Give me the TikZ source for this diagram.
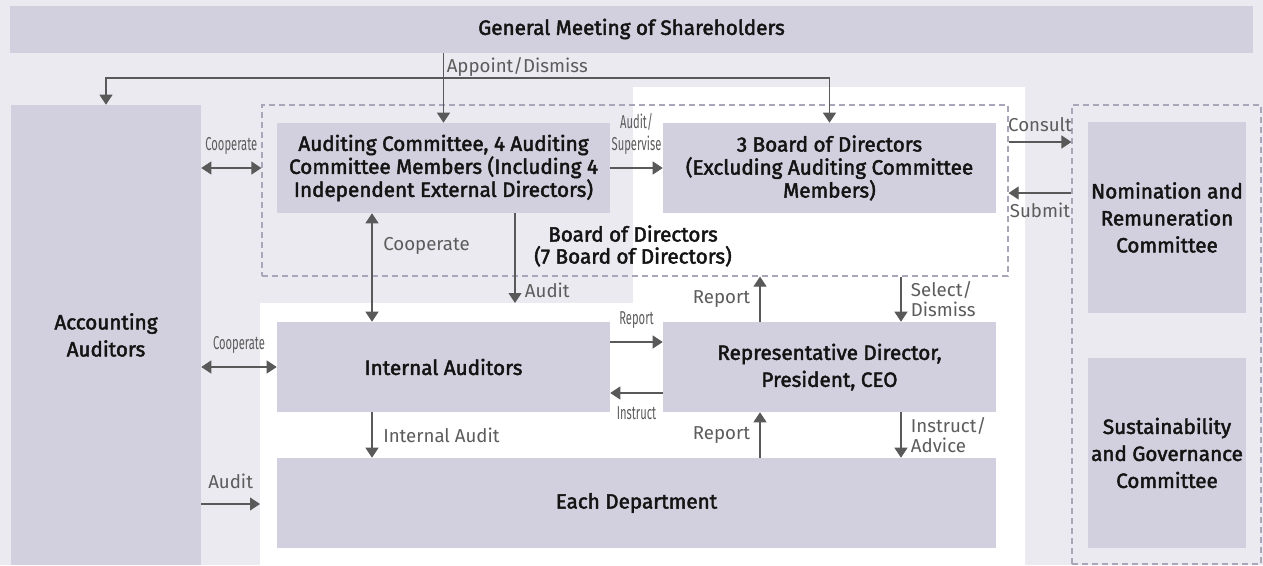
\documentclass[tikz,border=0pt]{standalone}
\usepackage{fontspec}
\setmainfont{Fira Sans}
\newfontfamily\boxfont{Fira Sans}[FakeBold=2.2]
\newfontfamily\narrowfont{Fira Sans}[FakeStretch=0.6]
\usetikzlibrary{arrows.meta}
\definecolor{bgc}{HTML}{EBEAF1}
\definecolor{boxc}{HTML}{D2D0DE}
\definecolor{dashc}{HTML}{A9A6B9}
\definecolor{arrc}{HTML}{595959}
\definecolor{lblc}{HTML}{5C5C5C}

\begin{document}
\begin{tikzpicture}[x=0.75pt,y=-0.75pt]
\tikzstyle{sq1}=[rectangle, fill=boxc, inner sep=0pt, align=center, text=black!92, font=\boxfont\fontsize{15.5}{17.25}\selectfont]
\tikzstyle{sqw}=[sq1, minimum width=249.75pt, minimum height=67.5pt]
\tikzstyle{sqt}=[sq1, font=\boxfont\fontsize{15.5}{20.25}\selectfont]
\tikzstyle{txtonly}=[rectangle, inner sep=0pt, align=center, text=black!92, font=\boxfont\fontsize{15.5}{16.5}\selectfont]
\tikzstyle{frm}=[rectangle, inner sep=0pt, draw=dashc, line width=0.9pt, dash pattern=on 4.5pt off 3pt]
\tikzstyle{arr}=[draw=arrc, line width=0.9pt, -{Triangle[width=9.75pt,length=7.5pt]}]
\tikzstyle{darr}=[arr, {Triangle[width=9.75pt,length=7.5pt]}-{Triangle[width=9.75pt,length=7.5pt]}]
\tikzstyle{lbl}=[text=lblc, inner sep=2pt, align=left, font=\fontsize{14}{15.5}\selectfont]
\tikzstyle{nlbl}=[text=lblc, inner sep=2pt, align=center, font=\narrowfont\fontsize{14}{16.5}\selectfont]
\useasboundingbox (0,0) rectangle (1263,565);
\fill[bgc] (0,0) rectangle (1263,565);
% executive area
\fill[white] (633,87) -- (1025,87) -- (1025,565) -- (260,565) -- (260,303) -- (633,303) -- cycle;
% dashed frames
\node (bdf) [frm, minimum width=559.5pt, minimum height=128.25pt] at (635,190.5) {};
\node (cdf) [frm, minimum width=141.75pt, minimum height=344.25pt] at (1166.5,334.5) {};
% boxes
\node (gms) [sq1, minimum width=932.25pt, minimum height=35.25pt] at (631.5,29) {General Meeting of Shareholders};
\node (acc) [sqt, minimum width=142.5pt, minimum height=345pt] at (106,335) {Accounting\\Auditors};
\node (audc) [sqw] at (443.5,168) {Auditing Committee, 4 Auditing\\Committee Members (Including 4\\Independent External Directors)};
\node (bod) [sqw, right of=audc, node distance=289.5pt] {3 Board of Directors\\(Excluding Auditing Committee\\Members)};
\node (ia) [sqw, below of=audc, node distance=149.25pt] {Internal Auditors};
\node (rep) [sqw, sqt, right of=ia, node distance=289.5pt] {Representative Director,\\President, CEO};
\node (dept) [sq1, minimum width=539.25pt, minimum height=67.5pt] at (636.5,503) {Each Department};
\node (nom) [sqt, minimum width=118.5pt, minimum height=143.25pt] at (1167,217.5) {Nomination and\\Remuneration\\Committee};
\node (sus) [sqt, minimum width=118.5pt, minimum height=142.5pt] at (1167,453) {Sustainability\\and Governance\\Committee};
\node (bdlbl) [txtonly] at (633,246) {Board of Directors\\(7 Board of Directors)};
% helper coordinates
\coordinate (ad) at (443.5,78);
\coordinate (xl) at (372,0);
\coordinate (xa) at (515,0);
\coordinate (xr) at (760,0);
\coordinate (xs) at (901,0);
\coordinate (yc) at (0,142);
\coordinate (ys) at (0,193);
\coordinate (yr) at (0,342);
\coordinate (yi) at (0,393);
\coordinate (yd) at (0,504);
\coordinate (audtip) at (515,303);
\coordinate (deptedge) at (260,504);
% appoint / dismiss
\draw[arr] (gms.south -| audc) -- (audc.north) node (lad) [lbl, pos=0.2, right] {Appoint/Dismiss};
\draw[arr] (ad) -| (acc.north);
\draw[arr] (ad) -| (bod.north);
% left side
\draw[darr] (acc.east |- audc) -- (bdf.west |- audc) node (lc1) [nlbl, midway, above=8pt] {Cooperate};
\draw[darr] (acc.east |- ia) -- (ia.west) node (lc2) [nlbl, midway, above=8pt] {Cooperate};
\draw[arr] (acc.east |- yd) -- (deptedge) node (la1) [lbl, midway, above=9pt] {Audit};
% auditing committee
\draw[arr] (audc.east) -- (bod.west) node (las) [nlbl, midway, above=8pt] {Audit/\\Supervise};
\draw[darr] (audc.south -| xl) -- (ia.north -| xl) node (lc3) [lbl, pos=0.3, right=6pt] {Cooperate};
\draw[arr] (audc.south -| xa) -- (audtip) node (la2) [lbl, pos=0.86, right=5pt] {Audit};
% nomination committee
\draw[arr] (bdf.east |- yc) -- (cdf.west |- yc) node (lcs) [lbl, midway, above=5pt] {Consult};
\draw[arr] (cdf.west |- ys) -- (bdf.east |- ys) node (lsb) [lbl, midway, below=5pt] {Submit};
% executive side
\draw[arr] (bdf.south -| xs) -- (rep.north -| xs) node (lsd) [lbl, midway, right=5pt] {Select/\\Dismiss};
\draw[arr] (rep.north -| xr) -- (bdf.south -| xr) node (lr1) [lbl, midway, left=5pt] {Report};
\draw[arr] (ia.east |- yr) -- (rep.west |- yr) node (lr2) [nlbl, midway, above=8pt] {Report};
\draw[arr] (rep.west |- yi) -- (ia.east |- yi) node (lin) [nlbl, midway, below=8pt] {Instruct};
\draw[arr] (dept.north -| xr) -- (rep.south -| xr) node (lr3) [lbl, midway, left=5pt] {Report};
\draw[arr] (ia.south -| xl) -- (dept.north -| xl) node (lia) [lbl, midway, right=6pt] {Internal Audit};
\draw[arr] (rep.south -| xs) -- (dept.north -| xs) node (lis) [lbl, midway, right=5pt] {Instruct/\\Advice};
\end{tikzpicture}
\end{document}
